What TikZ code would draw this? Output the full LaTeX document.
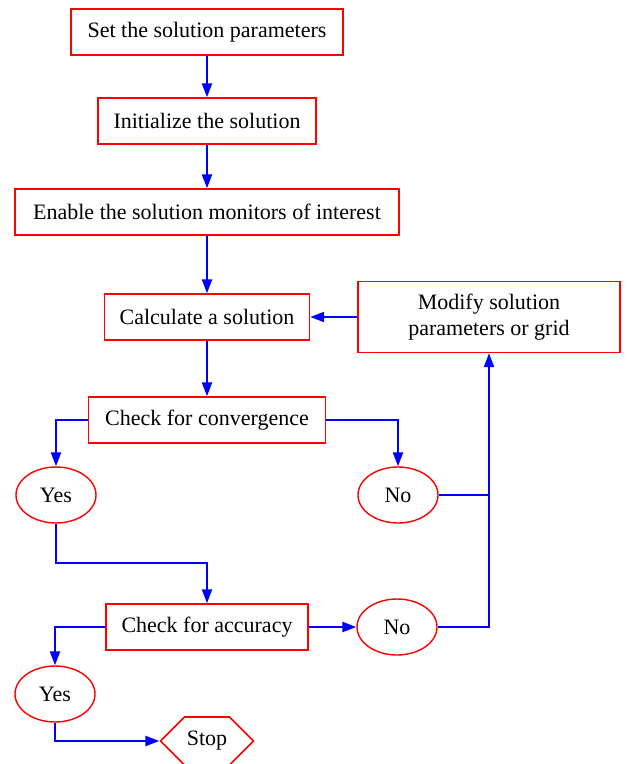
\documentclass[tikz,border=0pt]{standalone}
\usepackage{fontspec}
\setmainfont{Liberation Serif}
\usepackage{tikz}
\usetikzlibrary{arrows.meta, positioning, calc, shapes}

\begin{document}
\begin{tikzpicture}[x=0.5pt, y=-0.5pt,
    every node/.style={font=\fontsize{11}{13}\selectfont},
    box/.style={draw=red, line width=0.7pt, minimum height=23pt, inner sep=0pt},
    answer/.style={draw=red, line width=0.7pt, ellipse, minimum width=40pt, minimum height=28pt, inner sep=0pt},
    flow/.style={draw=blue, line width=1.1pt, -{Triangle[length=7pt, width=5pt]}},
    link/.style={draw=blue, line width=1.1pt}]
    \useasboundingbox (0,0) rectangle (628,764);

    \node[box, minimum width=136pt] (set) at (207, 32) {Set the solution parameters};
    \node[box, minimum width=109pt] (init) at (207, 121) {Initialize the solution};
    \node[box, minimum width=192pt] (monitors) at (207, 212) {Enable the solution monitors of interest};
    \node[box, minimum width=102.5pt] (calc) at (207, 317) {Calculate a solution};
    \node[box, minimum width=131pt, minimum height=35.5pt, align=center] (modify) at (489, 317) {Modify solution\\parameters or grid};
    \node[box, minimum width=118.5pt] (conv) at (207, 420) {Check for convergence};
    \node[answer] (yes1) at (56, 495) {Yes};
    \node[answer] (no1) at (398, 495) {No};
    \node[box, minimum width=101pt] (acc) at (207, 627) {Check for accuracy};
    \node[answer] (no2) at (397, 627) {No};
    \node[answer] (yes2) at (55, 694) {Yes};
    \node[draw=red, line width=0.8pt, signal, signal to=west and east, signal pointer angle=90,
          minimum width=46.5pt, minimum height=24pt, inner sep=0pt] (stop) at (207, 741) {Stop};

    \coordinate (bend) at (207, 563);
    \coordinate (join) at (489, 495);

    \draw[flow] (set) -- (init);
    \draw[flow] (init) -- (monitors);
    \draw[flow] (monitors) -- (calc);
    \draw[flow] (modify.west) -- (calc.east);
    \draw[flow] (calc) -- (conv);
    \draw[flow] (conv.west) -| (yes1.north);
    \draw[flow] (conv.east) -| (no1.north);
    \draw[flow] (no1.east) -| (modify.south);
    \draw[link] (no2.east) -| (join);
    \draw[flow] (yes1.south) |- (bend) -- (acc.north);
    \draw[flow] (acc.east) -- (no2.west);
    \draw[flow] (acc.west) -| (yes2.north);
    \draw[flow] (yes2.south) |- (stop.west);
\end{tikzpicture}
\end{document}
